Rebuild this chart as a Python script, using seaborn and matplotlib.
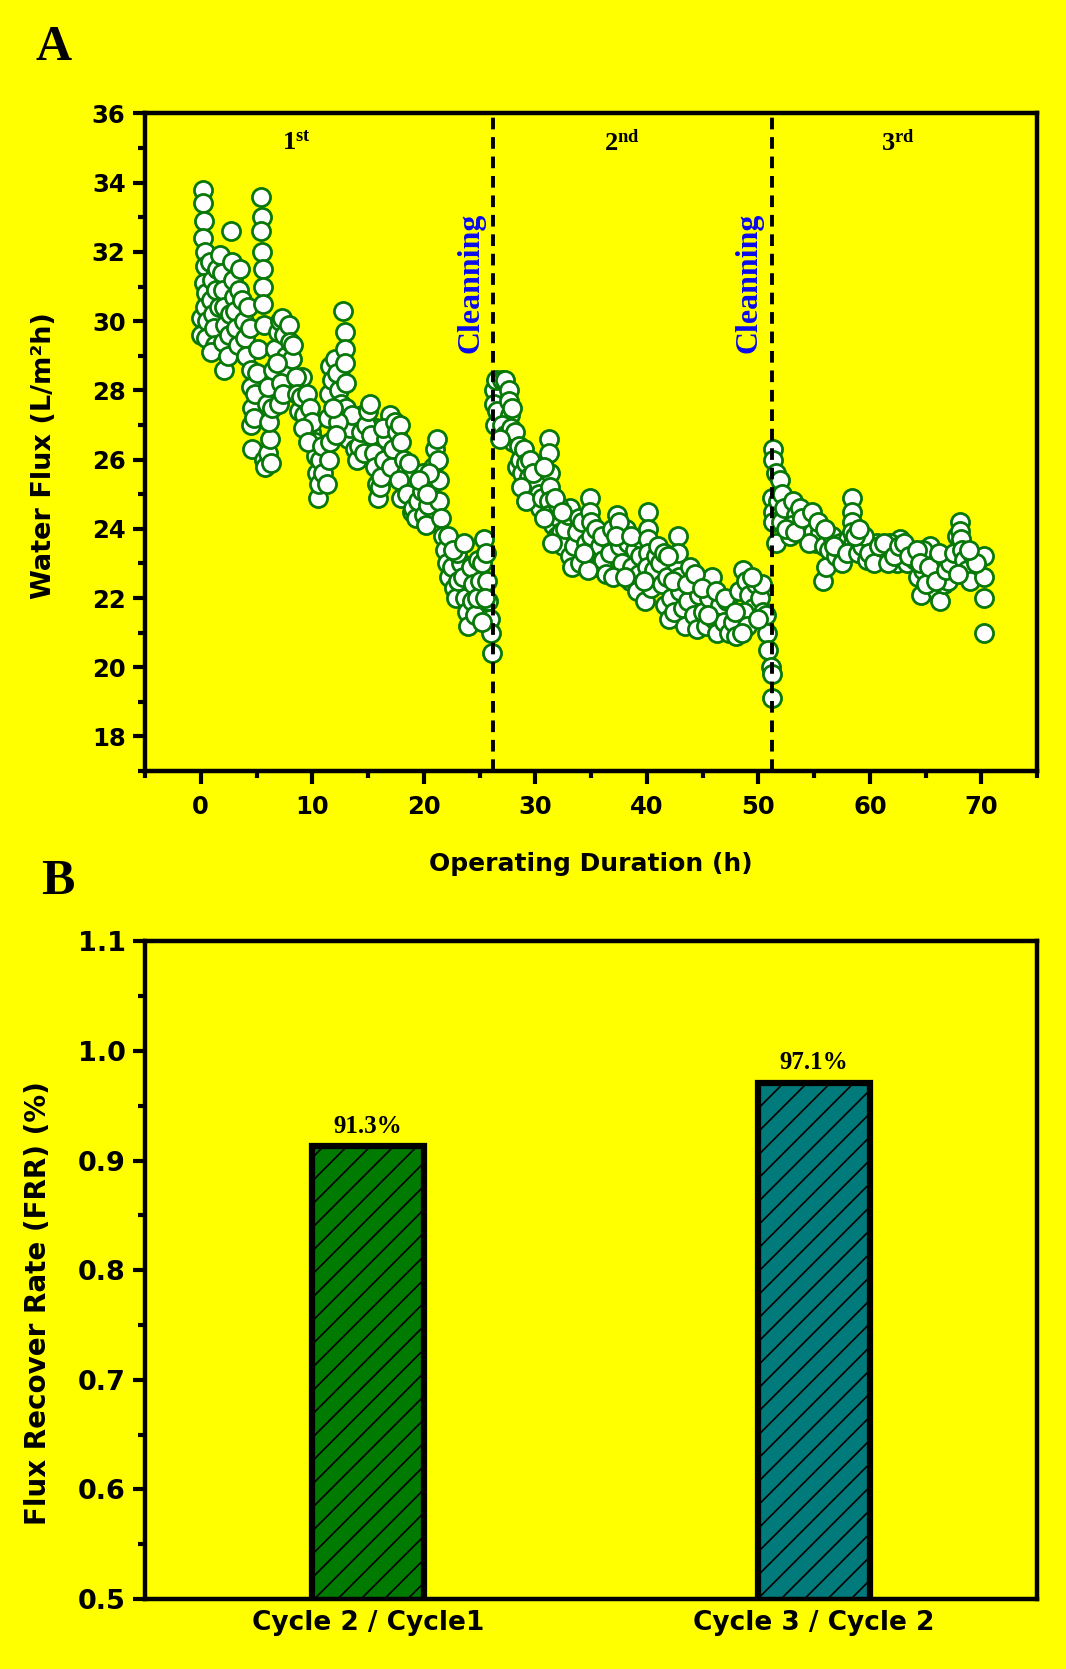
import matplotlib
matplotlib.use("Agg")
import matplotlib.pyplot as plt
import seaborn as sns
import pandas as pd
from matplotlib.ticker import MultipleLocator, FormatStrFormatter

# figure rendered at 140 dpi (so that the hatch spacing matches); all sizes below
# are expressed as "points at 100 dpi" and scaled by S
DPI = 140
S = 100.0 / DPI

sns.set_style("ticks")
plt.rcParams["font.family"] = ["DejaVu Sans"]
plt.rcParams["text.color"] = "black"
plt.rcParams["axes.labelcolor"] = "black"
plt.rcParams["xtick.color"] = "black"
plt.rcParams["ytick.color"] = "black"
plt.rcParams["mathtext.fontset"] = "custom"
plt.rcParams["mathtext.rm"] = "Liberation Serif:bold"
plt.rcParams["mathtext.it"] = "Liberation Serif:bold"
plt.rcParams["mathtext.bf"] = "Liberation Serif:bold"
plt.rcParams["hatch.linewidth"] = 1.2 * S
plt.rcParams["hatch.color"] = "black"

# ---------------- data: panel A (time h, water flux L/m2h) ----------------
cycle1 = [
    (0.0, 30.1), (0.0, 29.6), (0.2, 33.8), (0.2, 33.4), (0.3, 32.9), (0.2, 32.4), (0.4, 32.0),
    (0.4, 31.6), (0.3, 31.1), (0.5, 30.8), (0.4, 30.4), (0.6, 30.0), (0.5, 29.5),
    (0.8, 31.7), (1.0, 31.2), (0.9, 30.6), (1.1, 30.2), (1.2, 29.8), (1.3, 29.3), (0.9, 29.1),
    (1.4, 30.9), (1.5, 31.5), (1.6, 30.4), (2.3, 31.2), (3.6, 29.2),
    (1.7, 31.9), (1.9, 31.4), (2.0, 30.9), (2.1, 30.4), (2.2, 29.9), (2.0, 29.4), (2.1, 28.6),
    (2.4, 29.0), (2.5, 29.6), (2.6, 30.2), (2.7, 32.6), (2.8, 31.7), (2.9, 31.2), (3.0, 30.7),
    (3.1, 30.3), (3.2, 29.8), (3.3, 29.3), (3.4, 30.9), (3.5, 31.5), (3.7, 30.6),
    (3.9, 30.0), (4.0, 29.5), (4.1, 29.0), (4.2, 30.4), (4.4, 29.8), (4.5, 28.6), (4.5, 28.1),
    (4.6, 27.5), (4.5, 27.0), (4.6, 26.3), (4.8, 27.2), (4.9, 27.9), (5.0, 28.5), (5.1, 29.2),
    (5.4, 33.6), (5.5, 33.0), (5.4, 32.6), (5.5, 32.0), (5.6, 31.5), (5.6, 31.0), (5.6, 30.5),
    (5.7, 29.9),
    (5.7, 26.0), (5.8, 25.8), (6.0, 26.2), (6.2, 26.6), (6.1, 27.1), (6.3, 25.9), (5.9, 27.6),
    (6.0, 28.1), (6.4, 27.5), (7.7, 28.0), (9.1, 28.4),
    (6.5, 28.6), (6.7, 29.2), (6.9, 29.7), (7.1, 30.0), (7.3, 30.1), (7.5, 29.6), (7.6, 29.0),
    (7.8, 28.5), (7.0, 27.6), (7.2, 28.2), (7.4, 27.9), (7.9, 29.9), (8.0, 29.4), (8.2, 28.9),
    (8.3, 29.3), (8.5, 28.4), (8.6, 27.9), (8.8, 27.4), (6.8, 28.8),
    (9.0, 27.8), (9.3, 27.3), (9.5, 27.9), (9.8, 27.5), (9.9, 26.8), (10.0, 27.1), (10.2, 26.5),
    (10.3, 26.1), (10.4, 25.6), (10.5, 24.9), (10.6, 25.3), (10.7, 26.0), (9.2, 26.9), (9.6, 26.5),
    (10.9, 26.4), (12.5, 28.6), (14.5, 27.3), (15.7, 26.9),
    (11.0, 25.6), (11.3, 25.3), (11.5, 26.0), (11.6, 26.5), (11.4, 27.2), (11.5, 27.9),
    (11.6, 28.7), (11.8, 28.3), (12.0, 28.9), (12.2, 28.5), (12.4, 28.0), (12.6, 27.6),
    (12.8, 30.3), (12.9, 29.7), (12.9, 29.2), (12.9, 28.8), (13.0, 28.2), (13.0, 27.5),
    (13.0, 27.0), (13.2, 26.6), (13.4, 26.9), (13.6, 27.3), (12.3, 27.1), (12.1, 26.7), (11.9, 27.5),
    (13.8, 26.3), (14.0, 26.0), (14.2, 26.4), (14.4, 26.8), (14.6, 26.2), (14.8, 27.0),
    (15.0, 27.4), (15.2, 27.6), (15.3, 26.7), (15.5, 26.2), (15.6, 25.8), (15.8, 25.3),
    (15.9, 24.9), (16.1, 25.2), (16.2, 25.5), (16.4, 26.0), (16.6, 26.6), (16.8, 27.0),
    (17.0, 27.3), (16.3, 26.9), (17.2, 26.3), (17.1, 25.8), (18.9, 24.5), (19.9, 25.6),
    (17.4, 27.1), (17.6, 26.8), (17.9, 27.0), (18.0, 26.5), (18.2, 26.0), (18.4, 25.6),
    (18.7, 25.9), (17.8, 25.4), (18.0, 24.9), (18.5, 25.0),
    (19.0, 24.6), (19.3, 24.3), (19.5, 24.8), (19.8, 25.1), (20.0, 24.4), (20.2, 24.1),
    (20.4, 24.7), (20.6, 25.2), (20.8, 25.8), (21.0, 26.3), (21.2, 26.6), (21.3, 26.0),
    (21.4, 25.4), (21.4, 24.8), (21.5, 24.3), (20.5, 25.6), (19.6, 25.4), (20.3, 25.0),
    (21.7, 23.8), (21.9, 23.4), (22.1, 23.0), (22.3, 22.6), (22.5, 22.9), (22.7, 22.3),
    (22.9, 22.0), (23.1, 22.5), (23.3, 23.0), (23.5, 22.6), (23.7, 22.0), (23.9, 21.6),
    (24.0, 21.2), (24.2, 22.9), (24.4, 22.4), (22.2, 23.8), (23.0, 23.3),
    (22.6, 23.4), (23.6, 23.6), (24.3, 21.9), (24.9, 23.1),
    (24.6, 21.5), (24.8, 22.0), (25.0, 22.5), (25.2, 23.0), (25.4, 23.7), (25.6, 23.3),
    (25.7, 22.5), (25.8, 21.9), (25.9, 21.4), (26.0, 21.0), (26.1, 20.4), (25.5, 22.0), (25.2, 21.3),
]
cycle2 = [
    (26.3, 28.0), (26.5, 28.3), (26.3, 27.6), (26.4, 27.0), (26.6, 27.4), (27.0, 28.3),
    (27.3, 28.3), (27.6, 28.0), (27.6, 27.7), (27.7, 27.3), (27.0, 27.0), (27.3, 26.7),
    (27.8, 26.9), (28.0, 26.5), (28.2, 26.8), (26.8, 26.6), (27.9, 27.5), (28.4, 25.8),
    (28.5, 26.4), (28.6, 26.0), (28.8, 25.6), (29.0, 26.3), (29.2, 25.9), (29.4, 25.5),
    (29.5, 26.0), (29.7, 25.2), (29.9, 24.9), (30.1, 25.4), (30.3, 25.0), (30.4, 24.6),
    (28.7, 25.2), (29.2, 24.8), (29.8, 25.6), (30.6, 24.9),
    (31.2, 26.6), (31.2, 26.2), (31.3, 25.6), (31.3, 25.2), (31.2, 24.8), (31.1, 24.4), (30.8, 25.8),
    (31.6, 24.1), (31.9, 23.8), (32.1, 24.3), (32.3, 23.9), (32.5, 23.5), (32.7, 24.0),
    (32.9, 24.4), (33.1, 24.6), (33.1, 23.2), (33.3, 22.9), (33.5, 23.5), (33.7, 23.9),
    (32.0, 24.7), (30.8, 24.3), (31.5, 23.6), (31.8, 24.9), (32.4, 24.5), (33.9, 24.3),
    (34.2, 24.2), (34.5, 23.6), (34.9, 24.9), (34.9, 24.5), (35.0, 24.2), (35.0, 23.8),
    (35.3, 23.3), (35.6, 22.9), (35.8, 23.5), (36.1, 23.1), (36.3, 22.7), (36.5, 23.7),
    (34.0, 23.0), (34.7, 22.8), (34.4, 23.3), (35.4, 24.0), (36.0, 23.8), (36.7, 23.3),
    (36.9, 24.0), (37.3, 24.4), (37.6, 23.5), (37.8, 23.0), (38.1, 24.0), (38.3, 23.6),
    (38.5, 22.5), (38.7, 22.9), (38.9, 23.4), (39.1, 22.2), (39.3, 22.7), (37.0, 22.6),
    (39.5, 23.7), (37.5, 24.2), (37.2, 23.8), (38.0, 22.6), (38.6, 23.8), (39.4, 23.2),
    (40.1, 24.5), (40.1, 24.0), (40.1, 23.7), (40.1, 23.3), (40.0, 22.9), (39.8, 21.9),
    (40.4, 22.3), (40.6, 22.8), (39.7, 22.5), (40.8, 23.2),
    (41.0, 23.5), (41.2, 23.0), (41.4, 22.4), (41.6, 21.8), (41.8, 22.6), (42.0, 21.4),
    (42.2, 22.0), (42.4, 21.6), (42.6, 23.0), (42.8, 23.8), (42.8, 23.3), (42.9, 22.6),
    (43.0, 22.2), (43.2, 21.7), (43.4, 21.2), (41.5, 23.3), (41.9, 23.2), (42.3, 22.5),
    (43.7, 21.9), (44.0, 22.4), (44.2, 21.5), (44.5, 21.1), (44.7, 22.1), (45.0, 21.6),
    (45.3, 21.2), (45.6, 22.0), (45.8, 22.6), (46.0, 21.4), (46.3, 21.0), (46.6, 21.8),
    (46.9, 21.3), (47.2, 21.9), (47.4, 21.0), (47.7, 21.3), (48.0, 20.9), (43.9, 22.9),
    (43.6, 22.4), (44.3, 22.7), (44.9, 22.3), (45.5, 21.5), (46.2, 22.2), (47.0, 22.0),
    (48.3, 22.2), (48.6, 22.8), (48.9, 22.5), (49.2, 22.1), (49.5, 21.7), (49.8, 22.4),
    (50.1, 22.0), (50.4, 21.6), (50.7, 21.5), (50.8, 21.0), (50.9, 20.5), (51.1, 20.0),
    (51.2, 19.8), (51.2, 19.1), (48.7, 21.6), (50.3, 22.4), (49.0, 21.2),
    (47.9, 21.6), (48.5, 21.0), (49.4, 22.6), (50.0, 21.4),
]
cycle3 = [
    (51.3, 26.3), (51.3, 26.0), (51.6, 25.6), (51.9, 25.4), (51.2, 24.9), (51.3, 24.5),
    (51.3, 24.2), (51.6, 23.6), (51.8, 24.8), (52.1, 25.0), (52.0, 24.2), (52.3, 24.6),
    (52.8, 23.8), (53.1, 24.8), (53.4, 24.4), (53.7, 24.6), (54.0, 24.1), (54.3, 23.8),
    (54.6, 24.2), (54.9, 23.9), (55.2, 23.6), (55.5, 23.9), (55.8, 22.5), (56.1, 22.9),
    (53.0, 24.1), (54.5, 23.6), (52.5, 24.0), (53.3, 23.9), (53.9, 24.3), (54.8, 24.5),
    (55.3, 24.2), (55.9, 23.5),
    (56.3, 23.4), (56.6, 23.8), (57.0, 23.2), (57.3, 23.6), (57.6, 23.3), (58.0, 23.7),
    (58.4, 24.9), (58.4, 24.5), (58.4, 24.2), (58.4, 23.9), (58.5, 23.6), (56.0, 24.0),
    (56.8, 23.5), (57.5, 23.0), (57.9, 23.3),
    (58.9, 23.3), (59.3, 23.5), (59.7, 23.1), (60.1, 23.4), (60.6, 23.6), (61.0, 23.2),
    (61.5, 23.2), (62.0, 23.4), (62.4, 23.0), (62.7, 23.7), (63.0, 23.3), (63.3, 23.0),
    (63.7, 23.4), (64.0, 23.1), (59.5, 23.8), (61.8, 23.6), (58.7, 23.8), (59.0, 24.0),
    (59.9, 23.3), (60.4, 23.0), (60.8, 23.5), (61.3, 23.6), (61.6, 23.0), (62.2, 23.2),
    (62.6, 23.5), (63.1, 23.6), (63.5, 23.2),
    (64.3, 22.6), (64.6, 22.1), (64.8, 22.8), (65.1, 23.3), (65.4, 23.5), (65.7, 22.7),
    (66.0, 22.2), (66.3, 21.9), (66.6, 22.4), (67.0, 22.5), (65.0, 22.4), (66.5, 23.0), (64.8, 23.4),
    (64.2, 23.4), (64.5, 23.0), (65.3, 22.9), (65.9, 22.5), (66.8, 22.8), (67.2, 23.0), (66.2, 23.3),
    (67.5, 23.3), (67.8, 23.8), (68.1, 24.2), (68.1, 23.95), (68.2, 23.7), (68.3, 23.4),
    (68.4, 23.1), (68.7, 22.8), (69.0, 22.5), (69.2, 23.2), (70.2, 23.2), (70.2, 22.6),
    (70.2, 22.0), (70.2, 21.0), (69.5, 23.0), (68.9, 23.4), (67.9, 22.7),
]
cleaning_times = [26.2, 51.2]
cycle_labels = ["1", "2", "3"]
cycle_label_x = [8.6, 37.8, 62.5]
cycle_suffix = ["st", "nd", "rd"]

# ---------------- data: panel B ----------------
bar_labels = ["Cycle 2 / Cycle1", "Cycle 3 / Cycle 2"]
frr_values = [0.913, 0.971]
bar_colors = ["#007a00", "#007a7a"]

YELLOW = "#ffff00"
GREEN = "#087808"

rows = []
for name, pts in zip(cycle_labels, [cycle1, cycle2, cycle3]):
    for t, f in pts:
        rows.append({"time": t, "flux": f, "cycle": name})
df = pd.DataFrame(rows)

fig = plt.figure(figsize=(1066 / DPI, 1669 / DPI), dpi=DPI, facecolor=YELLOW)
ax1 = fig.add_axes([0.136, 0.538, 0.837, 0.394])
ax2 = fig.add_axes([0.136, 0.042, 0.837, 0.394])


def style(ax, labelsize):
    ax.set_facecolor(YELLOW)
    for s in ax.spines.values():
        s.set_linewidth(3.2 * S)
        s.set_color("black")
        s.set_visible(True)
    ax.tick_params(which="major", direction="out", length=9 * S, width=3 * S,
                   labelsize=labelsize * S, pad=5 * S, top=False, right=False,
                   colors="black")
    ax.tick_params(which="minor", direction="out", length=5 * S, width=3 * S,
                   top=False, right=False)
    for lab in ax.get_xticklabels() + ax.get_yticklabels():
        lab.set_fontweight("bold")


# ---------------- panel A ----------------
sns.scatterplot(data=df, x="time", y="flux", ax=ax1, color="white", edgecolor=GREEN,
                linewidth=2.0 * S, s=170 * S * S, zorder=3, legend=False)
for xc in cleaning_times:
    ax1.axvline(xc, color="black", lw=2.8 * S, ls=(0, (3, 2)), zorder=4)
ax1.set_xlim(-5, 75)
ax1.set_ylim(17, 36)
ax1.xaxis.set_major_locator(MultipleLocator(10))
ax1.xaxis.set_minor_locator(MultipleLocator(5))
ax1.yaxis.set_major_locator(MultipleLocator(2))
ax1.yaxis.set_minor_locator(MultipleLocator(1))
ax1.set_xticks([0, 10, 20, 30, 40, 50, 60, 70])
ax1.set_xlabel("Operating Duration (h)", fontsize=18 * S, fontweight="bold",
               labelpad=24 * S)
ax1.set_ylabel("Water Flux (L/m²h)", fontsize=19.5 * S, fontweight="bold")
style(ax1, 17.5)
ax1.tick_params(axis="x", which="major", pad=8 * S)
ax1.yaxis.set_label_coords(-0.099, 0.48)

for lab, xl, suf in zip(cycle_labels, cycle_label_x, cycle_suffix):
    ax1.text(xl, 35.15, lab + r"$^{\mathrm{" + suf + "}}$", fontfamily="Liberation Serif",
             fontweight="bold", fontsize=19 * S, ha="center", va="center")
for xc in cleaning_times:
    ax1.text(xc - 2.0, 31.1, "Cleanning", rotation=90, color="#0a0aee",
             fontfamily="Liberation Serif", fontweight="bold", fontsize=23 * S,
             ha="center", va="center")

# ---------------- panel B ----------------
sns.barplot(x=bar_labels, y=frr_values, hue=bar_labels, palette=bar_colors, saturation=1,
            width=0.25, edgecolor="black", linewidth=4.5 * S, ax=ax2, legend=False, zorder=2)
for p in ax2.patches:
    p.set_hatch("//")
ax2.set_xlim(-0.5, 1.5)
ax2.set_ylim(0.5, 1.1)
ax2.yaxis.set_major_locator(MultipleLocator(0.1))
ax2.yaxis.set_minor_locator(MultipleLocator(0.05))
ax2.yaxis.set_major_formatter(FormatStrFormatter("%.1f"))
ax2.set_xlabel("")
ax2.set_ylabel("Flux Recover Rate (FRR) (%)", fontsize=20 * S, fontweight="bold")
style(ax2, 19.5)
ax2.tick_params(axis="x", which="both", length=0, pad=8 * S, labelsize=19 * S)
ax2.yaxis.set_label_coords(-0.104, 0.45)
for i, v in enumerate(frr_values):
    ax2.annotate(f"{v * 100:.1f}%", (i, v), xytext=(0, 6 * S), textcoords="offset points",
                 ha="center", va="bottom", fontfamily="Liberation Serif",
                 fontweight="bold", fontsize=18 * S, color="black")

fig.text(0.050, 0.971, "A", fontfamily="Liberation Serif", fontweight="bold",
         fontsize=36 * S, ha="center", va="center")
fig.text(0.054, 0.4716, "B", fontfamily="Liberation Serif", fontweight="bold",
         fontsize=36 * S, ha="center", va="center")

fig.savefig("out.png", dpi=DPI, facecolor=YELLOW)
